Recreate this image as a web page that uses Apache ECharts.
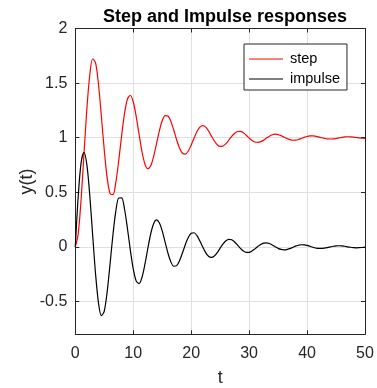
<!DOCTYPE html>
<html>
<head>
<meta charset="utf-8">
<script src="https://cdn.jsdelivr.net/npm/echarts@6/dist/echarts.min.js"></script>
<style>
  html, body { margin: 0; padding: 0; background: #ffffff; }
  #chart { width: 377px; height: 388px; }
</style>
</head>
<body>
<div id="chart"></div>
<script>
// Sample times (s), every 0.5 s from 0 to 50
const times = [
  0, 0.5, 1, 1.5, 2, 2.5, 3, 3.5, 4, 4.5,
  5, 5.5, 6, 6.5, 7, 7.5, 8, 8.5, 9, 9.5,
  10, 10.5, 11, 11.5, 12, 12.5, 13, 13.5, 14, 14.5,
  15, 15.5, 16, 16.5, 17, 17.5, 18, 18.5, 19, 19.5,
  20, 20.5, 21, 21.5, 22, 22.5, 23, 23.5, 24, 24.5,
  25, 25.5, 26, 26.5, 27, 27.5, 28, 28.5, 29, 29.5,
  30, 30.5, 31, 31.5, 32, 32.5, 33, 33.5, 34, 34.5,
  35, 35.5, 36, 36.5, 37, 37.5, 38, 38.5, 39, 39.5,
  40, 40.5, 41, 41.5, 42, 42.5, 43, 43.5, 44, 44.5,
  45, 45.5, 46, 46.5, 47, 47.5, 48, 48.5, 49, 49.5,
  50
];

// Step response y(t)
const stepValues = [
  0.000, 0.120, 0.435, 0.853, 1.266, 1.577, 1.723, 1.685, 1.489, 1.197,
  0.886, 0.632, 0.488, 0.479, 0.593, 0.792, 1.021, 1.223, 1.354, 1.389,
  1.329, 1.197, 1.032, 0.875, 0.762, 0.716, 0.741, 0.825, 0.942, 1.061,
  1.155, 1.203, 1.199, 1.149, 1.068, 0.979, 0.903, 0.858, 0.850, 0.878,
  0.932, 0.997, 1.057, 1.097, 1.111, 1.097, 1.062, 1.015, 0.970, 0.936,
  0.920, 0.924, 0.946, 0.979, 1.013, 1.041, 1.057, 1.058, 1.045, 1.023,
  0.997, 0.975, 0.961, 0.957, 0.964, 0.978, 0.997, 1.014, 1.027, 1.032,
  1.029, 1.019, 1.006, 0.993, 0.983, 0.977, 0.978, 0.984, 0.993, 1.003,
  1.011, 1.016, 1.017, 1.013, 1.007, 1.000, 0.994, 0.989, 0.988, 0.989,
  0.993, 0.998, 1.003, 1.007, 1.009, 1.008, 1.006, 1.002, 0.998, 0.995,
  0.994
];

// Impulse response y(t)
const impulseValues = [
  0.000, 0.461, 0.769, 0.867, 0.752, 0.471, 0.106, -0.250, -0.512, -0.630,
  -0.587, -0.411, -0.155, 0.113, 0.330, 0.448, 0.449, 0.345, 0.169, -0.029,
  -0.202, -0.311, -0.336, -0.280, -0.163, -0.019, 0.116, 0.210, 0.247, 0.221,
  0.147, 0.044, -0.059, -0.138, -0.177, -0.171, -0.125, -0.054, 0.023, 0.087,
  0.125, 0.130, 0.103, 0.055, -0.001, -0.052, -0.086, -0.096, -0.083, -0.052,
  -0.011, 0.028, 0.057, 0.070, 0.065, 0.045, 0.017, -0.013, -0.037, -0.050,
  -0.050, -0.038, -0.018, 0.004, 0.023, 0.035, 0.037, 0.031, 0.018, 0.002,
  -0.013, -0.023, -0.027, -0.024, -0.016, -0.005, 0.007, 0.015, 0.020, 0.019,
  0.014, 0.006, -0.003, -0.010, -0.014, -0.014, -0.011, -0.006, 0.000, 0.006,
  0.010, 0.011, 0.009, 0.006, 0.001, -0.003, -0.006, -0.008, -0.007, -0.005,
  -0.002
];

const seriesNames = ['step', 'impulse'];
const yTicks = [-0.5, 0, 0.5, 1, 1.5, 2];

const FONT = "'Liberation Sans', Arial, Helvetica, sans-serif";
const AXIS_COLOR = '#262626';
const GRID_COLOR = '#dfdfdf';

const toPairs = (vals) => times.map((t, i) => [t, vals[i]]);

const frameX = (pos) => ({
  type: 'value', position: pos, min: 0, max: 50, interval: 10,
  axisLine: { show: true, onZero: false, lineStyle: { color: AXIS_COLOR, width: 1 } },
  axisTick: { show: true, inside: true, length: 4, lineStyle: { color: AXIS_COLOR } },
  axisLabel: { show: pos === 'bottom', margin: 11, color: AXIS_COLOR, fontSize: 16, fontFamily: FONT },
  splitLine: { show: pos === 'bottom', lineStyle: { color: GRID_COLOR, width: 1 } },
  name: pos === 'bottom' ? 't' : '',
  nameLocation: 'middle', nameGap: 35, nameMoveOverlap: false,
  nameTextStyle: { color: AXIS_COLOR, fontSize: 18, fontFamily: FONT }
});

const frameY = (pos) => ({
  type: 'value', position: pos, min: -0.8, max: 2,
  axisLine: { show: true, onZero: false, lineStyle: { color: AXIS_COLOR, width: 1 } },
  axisTick: { show: true, inside: true, length: 4, customValues: yTicks, lineStyle: { color: AXIS_COLOR } },
  axisLabel: { show: pos === 'left', customValues: yTicks, margin: 8, color: AXIS_COLOR, fontSize: 16, fontFamily: FONT },
  splitLine: { show: pos === 'left', lineStyle: { color: GRID_COLOR, width: 1 } },
  name: pos === 'left' ? 'y(t)' : '',
  nameLocation: 'middle', nameGap: 39, nameMoveOverlap: false,
  nameTextStyle: { color: AXIS_COLOR, fontSize: 18, fontFamily: FONT }
});

const chart = echarts.init(document.getElementById('chart'), null, { renderer: 'canvas' });
chart.setOption({
  animation: false,
  backgroundColor: '#ffffff',
  title: {
    text: 'Step and Impulse responses',
    left: 220, top: 3, textAlign: 'center',
    textStyle: { color: '#000000', fontSize: 18, fontWeight: 'bold', fontFamily: FONT }
  },
  grid: {
    left: 75.3, right: 12, top: 28.5, bottom: 53.7,
    containLabel: false, outerBoundsMode: 'none'
  },
  legend: {
    orient: 'vertical', left: 244, top: 44,
    backgroundColor: '#ffffff', borderColor: AXIS_COLOR, borderWidth: 1,
    padding: [5, 7, 1, 5],
    icon: 'rect',
    itemWidth: 34, itemHeight: 1.2, itemGap: 0,
    textStyle: { color: '#000000', fontSize: 14.5, lineHeight: 20, fontFamily: FONT, padding: [0, 0, 0, 2] },
    data: seriesNames
  },
  xAxis: [frameX('bottom'), frameX('top')],
  yAxis: [frameY('left'), frameY('right')],
  series: [
    {
      name: seriesNames[0], type: 'line', xAxisIndex: 0, yAxisIndex: 0,
      data: toPairs(stepValues), symbol: 'none', smooth: 0.3,
      lineStyle: { color: '#ff0000', width: 1.2 }, itemStyle: { color: '#ff0000' }
    },
    {
      name: seriesNames[1], type: 'line', xAxisIndex: 0, yAxisIndex: 0,
      data: toPairs(impulseValues), symbol: 'none', smooth: 0.3,
      lineStyle: { color: '#000000', width: 1.2 }, itemStyle: { color: '#000000' }
    }
  ]
});
</script>
</body>
</html>
